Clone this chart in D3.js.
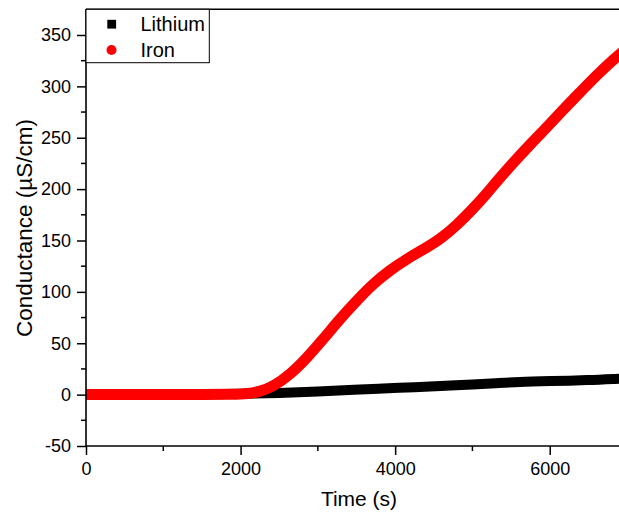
<!DOCTYPE html>
<html>
<head>
<meta charset="utf-8">
<script src="https://cdn.jsdelivr.net/npm/d3@7"></script>
<style>
  html, body { margin: 0; padding: 0; background: #fff; }
  svg { display: block; font-family: Arial, "Liberation Sans", sans-serif; }
</style>
</head>
<body>
<svg id="chart" width="619" height="521"></svg>
<script>
// Conductance over time for two electrolytes
const lithiumTime = [0, 500, 1000, 1500, 2000, 2500, 3000, 3500, 3800, 4000, 4500, 4700, 5000, 5300, 5600, 6000, 6500, 6900, 7000];
const lithiumCond = [0, 0, 0, 0.2, 0.8, 1.5, 3, 4.8, 5.9, 6.5, 8, 8.9, 9.7, 11, 12.5, 13.2, 14, 15.5, 15.8];

const ironTime = [0, 500, 1000, 1500, 1900, 2100, 2250, 2420, 2640, 2860, 3070, 3290, 3510, 3710, 3930, 4150, 4360, 4580, 4800, 5010, 5200, 5320, 5520, 5740, 5960, 6170, 6390, 6610, 6820, 7000];
const ironCond = [0, 0, 0, 0, 0.2, 0.8, 3, 7.8, 19.4, 36, 54, 74, 92, 107.5, 121, 132, 141, 151, 165, 181, 197, 208, 225, 243, 260, 277, 294, 311, 326, 337];

const xMajorTicks = [0, 2000, 4000, 6000];
const xMinorTicks = [1000, 3000, 5000];
const yMajorTicks = [-50, 0, 50, 100, 150, 200, 250, 300, 350];
const yMinorTicks = [-25, 25, 75, 125, 175, 225, 275, 325];

const seriesNames = ["Lithium", "Iron"];
const seriesColors = ["#000000", "#ff0000"];

const svg = d3.select("#chart");
const plotLeft = 86, plotRight = 627, plotTop = 9.3, plotBottom = 446;

const x = d3.scaleLinear().domain([0, 7000]).range([plotLeft, plotRight]);
const y = d3.scaleLinear().domain([-50, 375]).range([plotBottom, plotTop]);

svg.append("defs").append("clipPath").attr("id", "plotClip")
  .append("rect").attr("x", plotLeft).attr("y", plotTop)
  .attr("width", plotRight - plotLeft).attr("height", plotBottom - plotTop);

// Data curves (dense markers render as a thick band)
const line = d3.line().x(d => x(d[0])).y(d => y(d[1])).curve(d3.curveBasis);
const plot = svg.append("g").attr("clip-path", "url(#plotClip)");
plot.append("path")
  .datum(lithiumTime.map((t, i) => [t, lithiumCond[i]]))
  .attr("d", line).attr("fill", "none")
  .attr("stroke", seriesColors[0]).attr("stroke-width", 10)
  .attr("stroke-linejoin", "round");
plot.append("path")
  .datum(ironTime.map((t, i) => [t, ironCond[i]]))
  .attr("d", line).attr("fill", "none")
  .attr("stroke", seriesColors[1]).attr("stroke-width", 11)
  .attr("stroke-linejoin", "round");

// Axes
const fontTick = 18;
const fmt = d => String(d);
const xAxis = svg.append("g").attr("transform", `translate(0,${plotBottom})`)
  .call(d3.axisBottom(x).tickValues(xMajorTicks).tickSize(9).tickPadding(7).tickFormat(fmt));
xAxis.append("g").selectAll("line").data(xMinorTicks).join("line")
  .attr("x1", d => x(d)).attr("x2", d => x(d)).attr("y1", 0).attr("y2", 5)
  .attr("stroke", "#000").attr("stroke-width", 1.5);

const yAxis = svg.append("g").attr("transform", `translate(${plotLeft},0)`)
  .call(d3.axisLeft(y).tickValues(yMajorTicks).tickSize(9).tickPadding(6).tickFormat(fmt));
yAxis.append("g").selectAll("line").data(yMinorTicks).join("line")
  .attr("y1", d => y(d)).attr("y2", d => y(d)).attr("x1", 0).attr("x2", -5)
  .attr("stroke", "#000").attr("stroke-width", 1.5);

[xAxis, yAxis].forEach(g => {
  g.select(".domain").attr("stroke", "#000").attr("stroke-width", 1.6);
  g.selectAll(".tick line").attr("stroke", "#000").attr("stroke-width", 1.5);
  g.selectAll(".tick text").attr("font-size", fontTick).attr("fill", "#000")
    .attr("font-family", "Arial, 'Liberation Sans', sans-serif");
});
xAxis.select(".domain").attr("d", `M${plotLeft},0H${plotRight}`);
yAxis.select(".domain").attr("d", `M0,${plotBottom}V${plotTop}`);

// Top frame line
svg.append("line").attr("x1", plotLeft).attr("x2", plotRight).attr("y1", plotTop).attr("y2", plotTop)
  .attr("stroke", "#000").attr("stroke-width", 1.6);

// Axis titles
svg.append("text").attr("x", 359).attr("y", 506)
  .attr("text-anchor", "middle").attr("font-size", 21).text("Time (s)");
svg.append("text").attr("transform", `translate(32,228) rotate(-90)`)
  .attr("text-anchor", "middle").attr("font-size", 22.5).text("Conductance (µS/cm)");

// Legend
const legend = svg.append("g");
legend.append("rect").attr("x", plotLeft).attr("y", plotTop).attr("width", 209.3 - plotLeft).attr("height", 62.7 - plotTop)
  .attr("fill", "#fff").attr("stroke", "#000").attr("stroke-width", 1);
legend.append("rect").attr("x", 107.3).attr("y", 19.8).attr("width", 8.8).attr("height", 8.8)
  .attr("fill", seriesColors[0]);
legend.append("circle").attr("cx", 111.5).attr("cy", 50).attr("r", 5).attr("fill", seriesColors[1]);
legend.selectAll("text.lab").data(seriesNames).join("text").attr("class", "lab")
  .attr("x", 140.5).attr("y", (d, i) => i === 0 ? 31 : 56.5)
  .attr("font-size", 20).attr("fill", "#000").text(d => d);
</script>
</body>
</html>
